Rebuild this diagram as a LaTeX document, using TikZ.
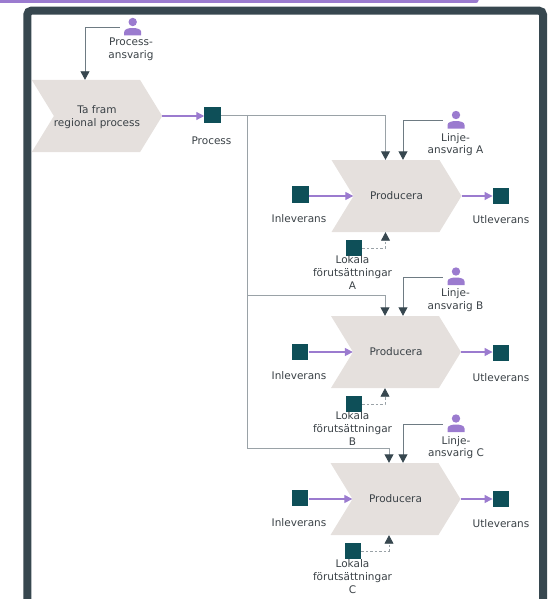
\documentclass[tikz,border=0pt]{standalone}
\usepackage{fontspec}
\setmainfont{DejaVu Sans}
\usetikzlibrary{shapes.symbols,arrows.meta}
\definecolor{framec}{HTML}{37474F}
\definecolor{purp}{HTML}{9B7BCF}
\definecolor{tealc}{HTML}{0E4F58}
\definecolor{chevc}{HTML}{E5E0DD}
\definecolor{linec}{HTML}{6E7B83}
\definecolor{procl}{HTML}{9AA2A7}
\definecolor{textc}{HTML}{3A4146}
\tikzset{
  chevron/.style={signal,signal from=west,signal to=east,signal pointer angle=117,
    fill=chevc,minimum width=130pt,minimum height=72pt,inner sep=0pt,align=center,
    text=textc,font=\fontsize{10.5}{12.7}\selectfont},
  sq/.style={rectangle,fill=tealc,minimum size=16.5pt,inner sep=0pt},
  lbl/.style={align=center,inner sep=0pt,text=textc,yshift=-1pt,font=\fontsize{10.5}{12.7}\selectfont},
  personbox/.style={rectangle,minimum width=26pt,minimum height=20pt,inner sep=0pt},
  flow/.style={draw=purp,line width=1.25pt,-{Triangle[length=8pt,width=8pt,fill=purp]}},
  role/.style={draw=linec,line width=0.9pt,-{Triangle[length=8.5pt,width=9pt,fill=framec,color=framec]}},
  feed/.style={draw=procl,line width=0.9pt,-{Triangle[length=8.5pt,width=9pt,fill=framec,color=framec]}},
  local/.style={draw=procl,line width=0.8pt,dash pattern=on 2.5pt off 2pt,-{Triangle[length=8.5pt,width=9pt,fill=framec,color=framec]}},
}
\newcommand{\personicon}[3]{%
  \fill[purp] (#2,#3-5.5) circle (4.2);
  \fill[purp] (#2-8.5,#3+8) -- (#2-8.5,#3+4.5) .. controls (#2-8.5,#3+1.5) and (#2-4,#3+0.5) .. (#2,#3+0.5)
     .. controls (#2+4,#3+0.5) and (#2+8.5,#3+1.5) .. (#2+8.5,#3+4.5) -- (#2+8.5,#3+8) -- cycle;
  \node[personbox] (#1) at (#2,#3) {};
}
\newcommand{\lowered}[1]{\raisebox{-1pt}[7.8pt][2pt]{#1}}
\begin{document}
\begin{tikzpicture}[x=1pt,y=-1pt]
\useasboundingbox (0,0) rectangle (559,599);
\clip (0,0) rectangle (559,599);
% top strip and frame
\fill[purp,rounded corners=2.5pt] (-10,-8) rectangle (478.5,3);
\draw[framec,line width=8pt,rounded corners=4pt] (27.3,640) -- (27.3,10.7) -- (543,10.7) -- (543,640);

% main process
\node[chevron] (T) at (97,116) {\lowered{Ta fram}\\\lowered{regional process}};
\node[sq] (Pq) at (212.7,115) {};
\personicon{Pr}{132.7}{27.5}
\node[lbl] (PrL) at (131,48.5) {Process-\\ansvarig};
\node[lbl] (PqL) at (211.5,139.5) {Process};

% row A
\node[chevron] (A) at (396.5,196) {\lowered{Producera}};
\node[sq] (Ai) at (300.5,194.5) {};
\node[sq] (Ao) at (501,196) {};
\node[sq] (Al) at (354,248) {};
\personicon{Am}{456}{120.5}
% row B
\node[chevron] (B) at (396,352) {\lowered{Producera}};
\node[sq] (Bi) at (300.2,352) {};
\node[sq] (Bo) at (501,353) {};
\node[sq] (Bl) at (354,404) {};
\personicon{Bm}{456}{277}
% row C
\node[chevron] (C) at (395.5,499) {\lowered{Producera}};
\node[sq] (Ci) at (300.2,498) {};
\node[sq] (Co) at (501,499) {};
\node[sq] (Cl) at (353,551) {};
\personicon{Cm}{456}{424}

% junctions
\coordinate (J1) at (247,115);
\coordinate (J2) at (247,295.5);
\coordinate (J3) at (247,448);

% connectors
\draw[role] (Pr.west) -| ([xshift=-12pt]T.north);
\draw[flow] (T.east) -- (T.east -| Pq.west);
\draw[feed] (Pq.east) -| ([xshift=-11pt]A.north);
\draw[draw=procl,line width=0.9pt] (J1) -- (J3);
\draw[feed] (J2) -| ([xshift=-11pt]B.north);
\draw[feed] (J3) -| ([xshift=-6.5pt]C.north);

\foreach \r/\dx in {A/6.5,B/7,C/7.5}{
  \draw[role] (\r m.west) -| ([xshift=\dx pt]\r.north);
  \draw[flow] (\r i.east |- \r.west) -- (\r.west);
  \draw[flow] (\r.east) -- (\r.east -| \r o.west);
}
\draw[local] (Al.east) -| ([xshift=-11pt]A.south);
\draw[local] (Bl.east) -| ([xshift=-11pt]B.south);
\draw[local] (Cl.east) -| ([xshift=-6.5pt]C.south);

% labels
\node[lbl] at (455.5,143.5) {Linje-\\ansvarig A};
\node[lbl] at (299,218) {Inleverans};
\node[lbl] at (501,219) {Utleverans};
\node[lbl] at (352.5,271.5) {Lokala\\förutsättningar\\A};
\node[lbl] at (455.5,299) {Linje-\\ansvarig B};
\node[lbl] at (299,375) {Inleverans};
\node[lbl] at (501,377) {Utleverans};
\node[lbl] at (352.5,427.5) {Lokala\\förutsättningar\\B};
\node[lbl] at (456,446.5) {Linje-\\ansvarig C};
\node[lbl] at (299,522) {Inleverans};
\node[lbl] at (501,523) {Utleverans};
\node[lbl] at (352.5,575.5) {Lokala\\förutsättningar\\C};
\end{tikzpicture}
\end{document}
